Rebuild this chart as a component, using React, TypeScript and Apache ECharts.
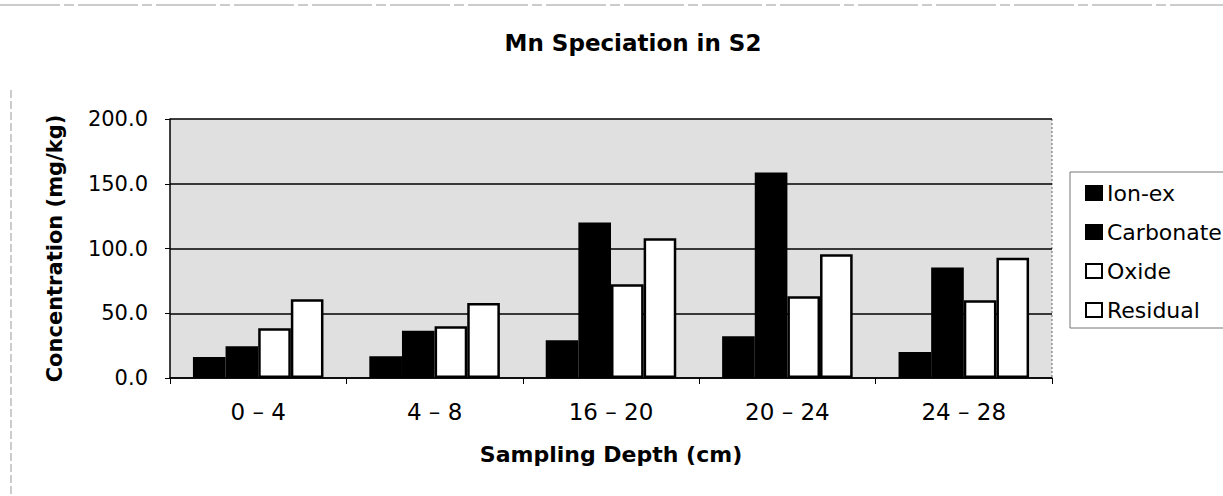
import React, { useEffect, useRef } from "react";
import * as echarts from "echarts";

const categories = ["0 – 4", "4 – 8", "16 – 20", "20 – 24", "24 – 28"];
const ionEx = [16.3, 16.8, 29.2, 32.3, 20.1];
const carbonate = [24.5, 36.4, 120.0, 158.7, 85.4];
const oxide = [38.5, 40.0, 72.3, 63.2, 60.1];
const residual = [60.9, 58.0, 107.9, 95.5, 92.9];
const yTicks = { min: 0, max: 200, interval: 50 };

const FONT = "DejaVu Sans";

export default function App() {
  const ref = useRef<HTMLDivElement>(null);
  useEffect(() => {
    if (!ref.current) return;
    const chart = echarts.init(ref.current, undefined, { renderer: "svg" });
    const black = { color: "#000", borderColor: "#000", borderWidth: 2 };
    const white = { color: "#fff", borderColor: "#000", borderWidth: 2.5 };
    chart.setOption({
      animation: false,
      backgroundColor: "#fff",
      textStyle: { fontFamily: FONT },
      title: {
        text: "Mn Speciation in S2",
        left: 628,
        top: 26,
        textAlign: "center",
        textStyle: { fontFamily: FONT, fontWeight: "bold", fontSize: 23, color: "#000" },
      },
      legend: {
        orient: "vertical",
        left: 1080,
        top: 177,
        itemWidth: 16,
        itemHeight: 14,
        itemGap: 17,
        icon: "rect",
        textStyle: { fontFamily: FONT, fontSize: 22, color: "#000", padding: [0, 0, 0, 0] },
        data: ["Ion-ex", "Carbonate", "Oxide", "Residual"],
      },
      grid: {
        left: 170,
        right: 171,
        top: 119,
        bottom: 118,
        show: true,
        backgroundColor: "#e0e0e0",
        borderWidth: 0,
      },
      xAxis: {
        type: "category",
        data: categories,
        name: "Sampling Depth (cm)",
        nameLocation: "middle",
        nameGap: 65,
        nameTextStyle: { fontFamily: FONT, fontWeight: "bold", fontSize: 22, color: "#000" },
        axisLine: { lineStyle: { color: "#000", width: 1.5 } },
        axisTick: { show: true, length: 6, lineStyle: { color: "#000" } },
        axisLabel: { fontFamily: FONT, fontSize: 23, color: "#000", margin: 22 },
      },
      yAxis: {
        type: "value",
        min: yTicks.min,
        max: yTicks.max,
        interval: yTicks.interval,
        name: "Concentration (mg/kg)",
        nameLocation: "middle",
        nameGap: 105,
        nameTextStyle: { fontFamily: FONT, fontWeight: "bold", fontSize: 21, color: "#000" },
        axisLine: { show: true, lineStyle: { color: "#000", width: 1.5 } },
        axisTick: { show: true, length: 5, lineStyle: { color: "#000" } },
        axisLabel: {
          fontFamily: FONT,
          fontSize: 21,
          color: "#000",
          margin: 22,
          formatter: (v: number) => v.toFixed(1),
        },
        splitLine: { show: true, lineStyle: { color: "#000", width: 1.5 } },
      },
      series: [
        { name: "Ion-ex", type: "bar", data: ionEx, itemStyle: black, barGap: "0%", barCategoryGap: "26%" },
        { name: "Carbonate", type: "bar", data: carbonate, itemStyle: black },
        { name: "Oxide", type: "bar", data: oxide, itemStyle: white },
        { name: "Residual", type: "bar", data: residual, itemStyle: white },
      ],
      graphic: [
        {
          type: "rect",
          shape: { x: 1070, y: 172, width: 200, height: 156 },
          style: { fill: "none", stroke: "#777", lineWidth: 1 },
          silent: true,
        },
        {
          type: "line",
          shape: { x1: 1052, y1: 119, x2: 1052, y2: 378 },
          style: { stroke: "#666", lineWidth: 1, lineDash: [2, 2] },
          silent: true,
        },
        {
          type: "line",
          shape: { x1: 0, y1: 5, x2: 1223, y2: 5 },
          style: { stroke: "#999", lineWidth: 1.2, lineDash: [60, 4, 10, 4] },
          silent: true,
        },
        {
          type: "line",
          shape: { x1: 11, y1: 90, x2: 11, y2: 496 },
          style: { stroke: "#999", lineWidth: 1, lineDash: [8, 3] },
          silent: true,
        },
      ],
    });
    return () => chart.dispose();
  }, []);
  return (
    <div
      ref={ref}
      style={{ position: "fixed", left: 0, top: 0, width: 1223, height: 496 }}
    />
  );
}
